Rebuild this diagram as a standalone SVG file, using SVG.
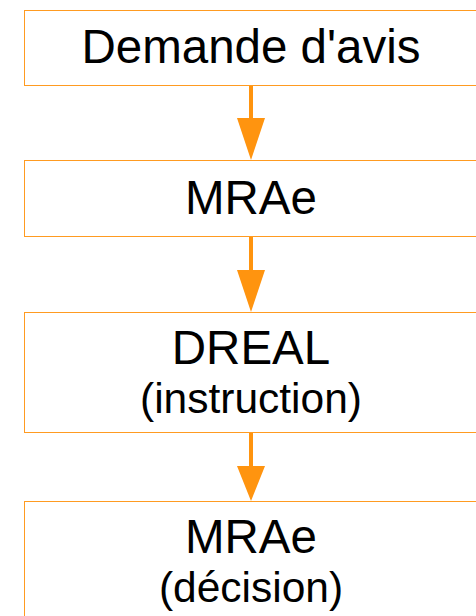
<svg xmlns="http://www.w3.org/2000/svg" width="476" height="616" viewBox="0 0 476 616">
<style>
.box{fill:#ffffff;stroke:#ff9b21;stroke-width:1}
.t{font-family:"Liberation Sans",Arial,sans-serif;fill:#000;text-anchor:middle}
.big{font-size:47.5px}
.small{font-size:42.5px}
.line{stroke:#ff940f;stroke-width:4;fill:none}
.head{fill:#ff940f}
</style>
<rect width="476" height="616" fill="#ffffff"/>
<g id="n1"><rect class="box" x="24.5" y="10.5" width="470" height="75"/><text class="t big" x="251" y="63">Demande d'avis</text></g>
<g id="n2"><rect class="box" x="24.5" y="160.5" width="470" height="76"/><text class="t big" x="251" y="214">MRAe</text></g>
<g id="n3"><rect class="box" x="24.5" y="312.5" width="470" height="120"/><text class="t big" x="251" y="364">DREAL</text><text class="t small" x="251" y="413">(instruction)</text></g>
<g id="n4"><rect class="box" x="24.5" y="501.5" width="470" height="140"/><text class="t big" x="251" y="553">MRAe</text><text class="t small" x="251" y="602">(décision)</text></g>
<g id="connectors">
<line class="line" x1="251" y1="86" x2="251" y2="120"/><polygon class="head" points="237,118 265,118 251,160"/>
<line class="line" x1="251" y1="237" x2="251" y2="272"/><polygon class="head" points="237,270 265,270 251,312"/>
<line class="line" x1="251" y1="433" x2="251" y2="468"/><polygon class="head" points="237,466 265,466 251,501"/>
</g>
</svg>
